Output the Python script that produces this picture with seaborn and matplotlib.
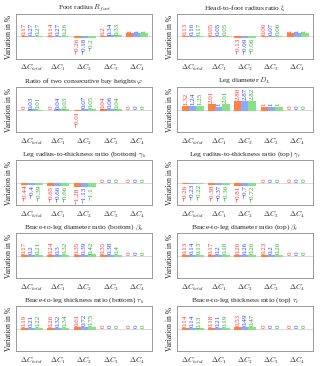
import matplotlib
matplotlib.use('Agg')
import matplotlib.pyplot as plt
import pandas as pd
import seaborn as sns

categories = [r'$\Delta C_{total}$', r'$\Delta C_1$', r'$\Delta C_2$', r'$\Delta C_3$', r'$\Delta C_4$']
series = ['s1', 's2', 's3']

titles = [
    r'Foot radius $R_{foot}$',
    r'Head-to-foot radius ratio $\xi$',
    r'Ratio of two consecutive bay heights $\varphi$',
    r'Leg diameter $D_L$',
    r'Leg radius-to-thickness ratio (bottom) $\gamma_b$',
    r'Leg radius-to-thickness ratio (top) $\gamma_t$',
    r'Brace-to-leg diameter ratio (bottom) $\beta_b$',
    r'Brace-to-leg diameter ratio (top) $\beta_t$',
    r'Brace-to-leg thickness ratio (bottom) $\tau_b$',
    r'Brace-to-leg thickness ratio (top) $\tau_t$',
]

# values per panel: rows = categories, columns = series
foot_radius = [[0.17, 0.27, 0.27], [0.14, 0.27, 0.26], [-0.26, -0.18, -0.2], [0.2, 0.34, 0.33], [1, 1, 1]]
head_foot = [[0.13, 0.16, 0.17], [0.05, 0.05, 0.05], [-0.13, -0.09, -0.06], [0.06, 0.07, 0.06], [1, 1, 1]]
bay_ratio = [[0, 0.03, 0.01], [0, 0.04, 0.03], [-0.01, 0.07, 0.05], [0.04, 0.06, 0.04], [0, 0, 0]]
leg_diam = [[1.32, 1.24, 1.25], [2.01, 1.00, 2.01], [2.88, 2.87, 2.82], [1, 1, 1], [0, 0, 0]]
gamma_b = [[-0.44, -0.4, -0.39], [-0.65, -0.66, -0.66], [-1.28, -1.13, -1.1], [0, 0, 0], [0, 0, 0]]
gamma_t = [[-0.26, -0.23, -0.22], [-0.38, -0.37, -0.36], [-0.81, -0.7, -0.72], [0, 0, 0], [0, 0, 0]]
beta_b = [[0.17, 0.2, 0.21], [0.24, 0.3, 0.32], [0.35, 0.39, 0.42], [0.35, 0.38, 0.4], [0, 0, 0]]
beta_t = [[0.13, 0.14, 0.13], [0.17, 0.2, 0.18], [0.26, 0.26, 0.26], [0.23, 0.2, 0.26], [0, 0, 0]]
tau_b = [[0.19, 0.21, 0.22], [0.26, 0.32, 0.34], [0.61, 0.72, 0.75], [0, 0, 0], [0, 0, 0]]
tau_t = [[0.14, 0.14, 0.13], [0.18, 0.21, 0.19], [0.53, 0.49, 0.47], [0, 0, 0], [0, 0, 0]]

panels = [foot_radius, head_foot, bay_ratio, leg_diam, gamma_b,
          gamma_t, beta_b, beta_t, tau_b, tau_t]

bar_colors = ['#ff8040', '#88aaff', '#88e088']
text_colors = ['#ff3030', '#3040ff', '#28a828']

sns.set_style('white')
plt.rcParams['font.family'] = ['Liberation Serif', 'DejaVu Serif']
plt.rcParams['mathtext.fontset'] = 'cm'


def fmt(v):
    if v == int(v):
        return '%d' % v
    return ('%g' % v).replace('-', '\u2212')


fig, axes = plt.subplots(5, 2, figsize=(3.2, 3.66), dpi=100)
fig.subplots_adjust(left=0.05, right=0.978, top=0.962, bottom=0.04, wspace=0.18, hspace=0.62)

for ax, title, vals in zip(axes.flat, titles, panels):
    rows = []
    for ci, cat in enumerate(categories):
        for si, s in enumerate(series):
            rows.append({'cat': cat, 'series': s, 'value': vals[ci][si]})
    df = pd.DataFrame(rows)
    sns.barplot(data=df, x='cat', y='value', hue='series', palette=bar_colors,
                ax=ax, legend=False, width=0.8, order=categories, hue_order=series,
                saturation=1)
    ax.axhline(0, color='#cccccc', lw=0.5, zorder=0)
    for si, cont in enumerate(ax.containers):
        for patch, v in zip(cont.patches, [row[si] for row in vals]):
            patch.set_edgecolor(bar_colors[si])
            patch.set_linewidth(0.8 if v != 0 else 0)
            x = patch.get_x() + patch.get_width() / 2
            off = 0.3 if v >= 0 else -0.3
            ax.text(x, v + off, fmt(v), rotation=90, ha='center',
                    va='bottom' if v >= 0 else 'top', fontsize=5,
                    color=text_colors[si])
    ax.set_ylim(-7.5, 7.5)
    ax.set_xlim(-0.6, 4.6)
    ax.set_yticks([])
    ax.set_xlabel('')
    ax.set_ylabel('Variation in %', fontsize=5.5, labelpad=2)
    ax.set_title(title, fontsize=5.4, pad=3)
    ax.tick_params(axis='x', labelsize=5.2, length=0, pad=3)
    for sp in ax.spines.values():
        sp.set_color('#999999')
        sp.set_linewidth(0.7)

fig.savefig('out.png', dpi=100)
